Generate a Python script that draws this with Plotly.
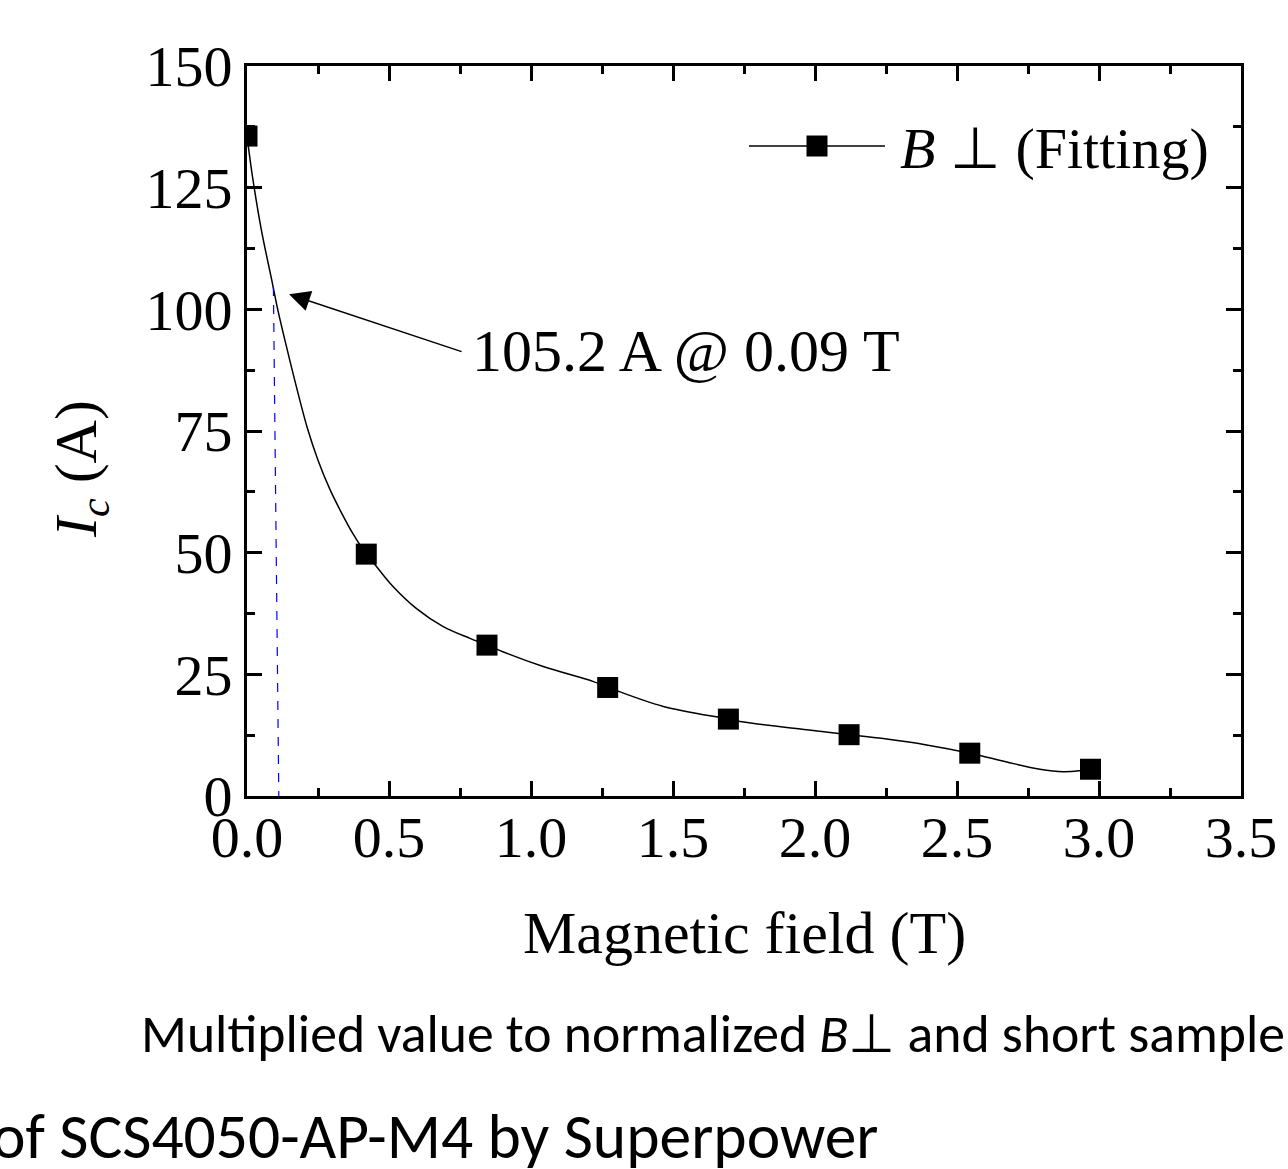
import plotly.graph_objects as go

# ---- data ----
field_T = [0.0, 0.42, 0.845, 1.27, 1.695, 2.12, 2.545, 2.97]
ic_A = [135.6, 49.7, 31.0, 22.3, 15.8, 12.6, 8.8, 5.5]

# fitted curve, points
fit_x = [0.0, 0.02, 0.05, 0.09, 0.107, 0.13, 0.17, 0.213, 0.25, 0.292, 0.33,
         0.374, 0.42, 0.451, 0.515, 0.597, 0.691, 0.785, 0.847, 0.903, 1.043,
         1.22, 1.272, 1.466, 1.697, 1.736, 1.971, 2.121, 2.24, 2.393, 2.545,
         2.675, 2.792, 2.875, 2.933, 2.97]
fit_y = [135.6, 127.0, 116.5, 105.2, 100.3, 94.5, 85.0, 75.5, 69.0, 63.0, 58.5,
         53.8, 49.7, 47.5, 43.0, 38.5, 34.8, 32.4, 31.0, 29.6, 26.6,
         23.5, 22.3, 18.4, 15.8, 15.3, 13.6, 12.6, 11.8, 10.5, 8.8,
         7.0, 5.5, 5.0, 5.2, 5.5]

mark_b = 0.09
mark_ic = 105.2

x_ticks = [0.0, 0.5, 1.0, 1.5, 2.0, 2.5, 3.0, 3.5]
x_ticklabels = ["0.0", "0.5", "1.0", "1.5", "2.0", "2.5", "3.0", "3.5"]
y_ticks = [0, 25, 50, 75, 100, 125, 150]
y_ticklabels = ["0", "25", "50", "75", "100", "125", "150"]

SERIF = "Liberation Serif, Times New Roman, serif"
SANS = "Carlito, Lato, sans-serif"

W, H = 1288, 1169
L, R, T, B = 247, 47, 66, 373
PW, PH = W - L - R, H - T - B


def px(xp):
    return (xp - L) / PW


def py(yp):
    return (H - B - yp) / PH


fig = go.Figure()

fig.add_trace(go.Scatter(x=fit_x, y=fit_y, mode="lines",
                         line=dict(color="black", width=1.5, shape="spline", smoothing=1.0),
                         showlegend=False, hoverinfo="skip"))
fig.add_trace(go.Scatter(x=field_T, y=ic_A, mode="markers",
                         marker=dict(symbol="square", size=21, color="black"),
                         showlegend=False, cliponaxis=True))

# blue dashed guide line
fig.add_shape(type="line", xref="x", yref="y", x0=mark_b + 0.003, y0=mark_ic - 0.6,
              x1=mark_b + 0.022, y1=0, line=dict(color="blue", width=1.2, dash="dash"))

# arrow
fig.add_annotation(x=0.148, y=103.1, ax=0.761, ay=91.2, xref="x", yref="y",
                   axref="x", ayref="y", text="", showarrow=True,
                   arrowhead=2, arrowsize=2.8, arrowwidth=1.5, arrowcolor="black")
fig.add_annotation(x=0.785, y=91.4, xref="x", yref="y",
                   text=f"{mark_ic} A @ {mark_b:.2f} T", showarrow=False,
                   xanchor="left", yanchor="middle",
                   font=dict(family=SERIF, size=60, color="black"))

# manual legend
fig.add_shape(type="line", xref="paper", yref="paper", x0=px(749), x1=px(885),
              y0=py(146), y1=py(146), line=dict(color="black", width=1.5))
fig.add_shape(type="rect", xref="paper", yref="paper", x0=px(806.5), x1=px(827.5),
              y0=py(156.5), y1=py(135.5), fillcolor="black", line=dict(width=0))
fig.add_annotation(x=px(898), y=py(148), xref="paper", yref="paper",
                   text="<i>B</i> \u22a5 (Fitting)", showarrow=False,
                   xanchor="left", yanchor="middle",
                   font=dict(family=SERIF, size=58, color="black"))

# axis titles
fig.add_annotation(x=px(744), y=py(933), xref="paper", yref="paper",
                   text="Magnetic field (T)", showarrow=False,
                   xanchor="center", yanchor="middle",
                   font=dict(family=SERIF, size=60, color="black"))
fig.add_annotation(x=px(80), y=py(469), xref="paper", yref="paper",
                   text="<i>I</i><sub><i>c</i></sub> (A)", showarrow=False,
                   textangle=-90, xanchor="center", yanchor="middle",
                   font=dict(family=SERIF, size=60, color="black"))

# caption
fig.add_annotation(x=px(139), y=py(1033), xref="paper", yref="paper",
                   text="Multiplied value to normalized <i>B</i>\u22a5 and short sample",
                   showarrow=False, xanchor="left", yanchor="middle",
                   font=dict(family=SANS, size=53.7, color="black"))
fig.add_annotation(x=px(-10), y=py(1136), xref="paper", yref="paper",
                   text="of SCS4050-AP-M4 by Superpower",
                   showarrow=False, xanchor="left", yanchor="middle",
                   font=dict(family=SANS, size=63.5, color="black"))

axis_common = dict(showgrid=False, zeroline=False, showline=True, linecolor="black",
                   linewidth=3, mirror="allticks", ticks="inside", ticklen=15,
                   tickwidth=3, tickcolor="black",
                   tickfont=dict(family=SERIF, size=58, color="black"))

fig.update_xaxes(range=[0, 3.5], tickvals=x_ticks, ticktext=x_ticklabels,
                 ticklabelstandoff=-12,
                 minor=dict(ticks="inside", ticklen=8, tickwidth=3, tickcolor="black",
                            dtick=0.25, tick0=0, showgrid=False),
                 **axis_common)
fig.update_yaxes(range=[0, 150], tickvals=y_ticks, ticktext=y_ticklabels,
                 minor=dict(ticks="inside", ticklen=8, tickwidth=3, tickcolor="black",
                            dtick=12.5, tick0=0, showgrid=False),
                 **axis_common)

fig.update_layout(width=W, height=H, margin=dict(l=L, r=R, t=T, b=B, autoexpand=False),
                  paper_bgcolor="white", plot_bgcolor="white", showlegend=False)

fig.write_html("out.html")
